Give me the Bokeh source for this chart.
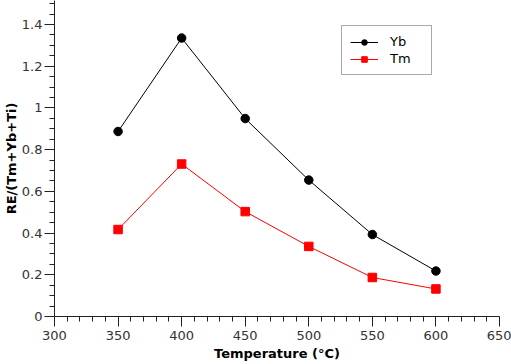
from bokeh.plotting import figure
from bokeh.models import SingleIntervalTicker, CustomJSTickFormatter, Legend, LegendItem, Range1d
from bokeh.embed import file_html
from bokeh.resources import INLINE

temperature = [350, 400, 450, 500, 550, 600]
yb = [0.887, 1.335, 0.949, 0.654, 0.393, 0.218]
tm = [0.417, 0.731, 0.503, 0.336, 0.187, 0.132]

p = figure(width=511, height=363, output_backend="svg", toolbar_location=None,
           x_range=Range1d(300, 650), y_range=Range1d(0, 1.515),
           min_border_left=0, min_border_right=12, min_border_top=0, min_border_bottom=0)
p.outline_line_color = None
p.xgrid.visible = False
p.ygrid.visible = False
p.background_fill_color = "white"

l1 = p.line(temperature, yb, line_color="black", line_width=1)
m1 = p.scatter(temperature, yb, marker="circle", size=8.5, fill_color="black", line_color="black")
l2 = p.line(temperature, tm, line_color="#ff0000", line_width=1)
m2 = p.scatter(temperature, tm, marker="square", size=8.5, fill_color="#ff0000", line_color="#ff0000")

for ax in (p.xaxis[0], p.yaxis[0]):
    ax.axis_line_color = "#222222"
    ax.major_tick_line_color = "#222222"
    ax.minor_tick_line_color = "#222222"
    ax.major_tick_out = 10
    ax.major_tick_in = 0
    ax.minor_tick_out = 5
    ax.minor_tick_in = 0
    ax.major_label_text_font = "DejaVu Sans"
    ax.major_label_text_font_size = "13px"
    ax.major_label_text_color = "#333333"
    ax.axis_label_text_font = "DejaVu Sans"
    ax.axis_label_text_font_size = "13px"
    ax.axis_label_text_font_style = "bold"
    ax.axis_label_text_color = "black"
    ax.major_label_standoff = 2
    ax.axis_label_standoff = 2
p.yaxis[0].axis_label_standoff = 0
p.xaxis[0].major_label_standoff = 4
p.xaxis[0].axis_label_standoff = 3

p.xaxis[0].ticker = SingleIntervalTicker(interval=50, num_minor_ticks=5)
p.yaxis[0].ticker = SingleIntervalTicker(interval=0.2, num_minor_ticks=4)
p.yaxis[0].formatter = CustomJSTickFormatter(code="return String(Math.round(tick*10)/10);")
p.xaxis[0].axis_label = "Temperature (°C)"
p.yaxis[0].axis_label = "RE/(Tm+Yb+Ti)"

legend = Legend(items=[LegendItem(label="Yb", renderers=[l1, m1]),
                       LegendItem(label="Tm", renderers=[l2, m2])],
                location=(287, 241))
legend.border_line_color = "#555555"
legend.border_line_width = 1
legend.background_fill_alpha = 1
legend.label_text_font = "DejaVu Sans"
legend.label_text_font_size = "13px"
legend.label_text_color = "black"
legend.glyph_width = 28
legend.glyph_height = 14
legend.spacing = 2
legend.padding = 8
legend.margin = 0
legend.label_standoff = 12
legend.label_width = 33
p.add_layout(legend, "center")

open("out.html", "w").write(file_html(p, INLINE))
